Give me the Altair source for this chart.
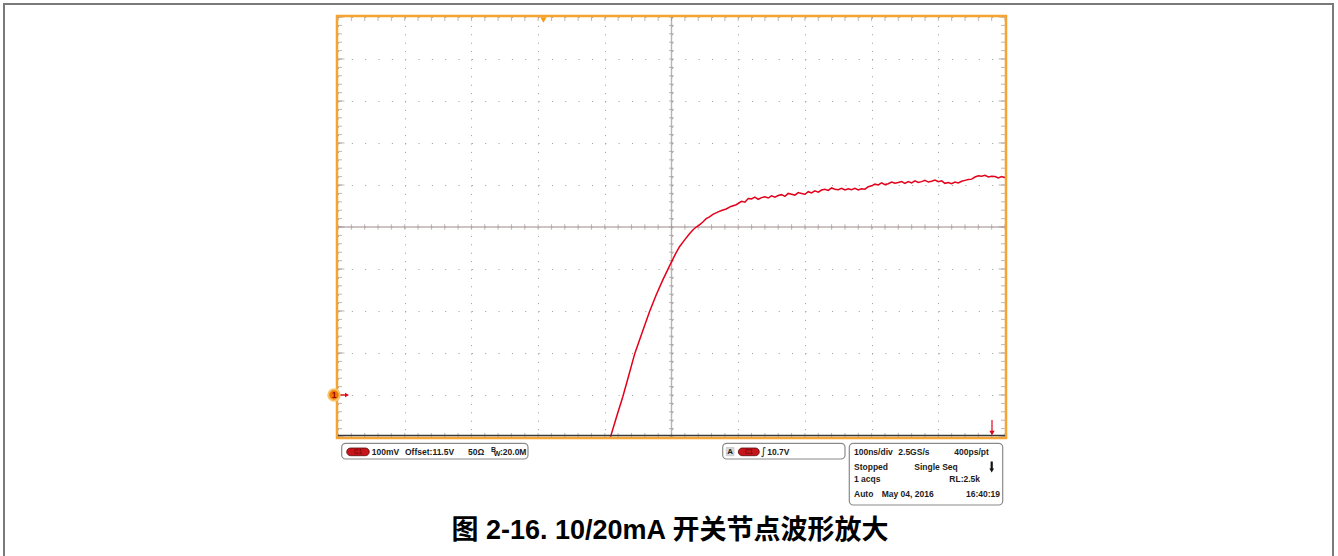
import altair as alt
import numpy as np
import pandas as pd

# Channel 1 switch-node trace: time in ns from the left graticule edge, voltage in V
time_ns = [
    408.5, 418, 427, 436, 445, 456, 467, 477, 487, 500, 506, 512, 520, 527, 532,
    537, 542, 547, 552, 557, 562, 570, 576, 582, 589, 597,
    605, 610, 615, 620, 625, 630, 635, 640, 645, 650, 655, 660, 665, 670, 675,
    680, 685, 690, 695, 700, 705, 710, 715, 720, 725, 730, 735, 740, 745, 750,
    755, 760, 765, 770, 775, 780, 785, 790, 795, 800, 805, 810, 815, 820, 825,
    830, 835, 840, 845, 850, 855, 860, 865, 870, 875, 880, 885, 890, 895, 900,
    905, 910, 915, 920, 925, 930, 935, 940, 945, 950, 955, 960, 965, 970, 975,
    980, 985, 990, 995, 1000,
]
volts = [
    11.000, 11.050, 11.096, 11.147, 11.199, 11.249, 11.298, 11.338, 11.374, 11.417,
    11.436, 11.453, 11.470, 11.484, 11.493, 11.500, 11.505, 11.512, 11.520, 11.524,
    11.530, 11.536, 11.540, 11.543, 11.549, 11.553,
    11.561, 11.559, 11.568, 11.567, 11.571, 11.566, 11.570, 11.572, 11.569, 11.574,
    11.571, 11.575, 11.577, 11.573, 11.580, 11.578, 11.576, 11.582, 11.580, 11.578,
    11.584, 11.581, 11.586, 11.583, 11.588, 11.590, 11.587, 11.593, 11.590, 11.589,
    11.592, 11.588, 11.591, 11.589, 11.592, 11.588, 11.591, 11.590, 11.596, 11.598,
    11.602, 11.600, 11.605, 11.601, 11.603, 11.607, 11.604, 11.606, 11.608, 11.604,
    11.608, 11.605, 11.610, 11.606, 11.608, 11.611, 11.607, 11.609, 11.612, 11.608,
    11.610, 11.604, 11.606, 11.603, 11.607, 11.605, 11.609, 11.611, 11.613, 11.614,
    11.619, 11.622, 11.621, 11.623, 11.619, 11.621, 11.620, 11.617, 11.620, 11.617,
]

SCREEN_T = [0, 1000]        # 10 div x 100 ns/div
SCREEN_V = [11.0, 12.0]     # 10 div x 100 mV/div around the 11.5 V offset
trigger_time = [308]
ground_level = [11.1]

W, H = 667, 420
ORANGE = "#f5a431"
TICK = "#a89494"
RED = "#e3001b"
FONT = "Liberation Sans"
CAPTION_FONT = "Liberation Sans, Noto Sans CJK SC"

xs = alt.Scale(domain=SCREEN_T, nice=False, zero=False)
ys = alt.Scale(domain=SCREEN_V, nice=False, zero=False)
xax = alt.Axis(values=list(range(0, 1001, 100)), grid=True, gridDash=[1, 7.4],
               gridColor="#9c9c9c", gridWidth=1, labels=False, ticks=False,
               domain=False, title="")
yax = alt.Axis(values=[round(11.0 + 0.1 * i, 1) for i in range(11)], grid=True,
               gridDash=[1, 12.34], gridColor="#9c9c9c", gridWidth=1, labels=False,
               ticks=False, domain=False, title="")

X = lambda f="t": alt.X(f"{f}:Q", scale=xs, axis=xax)
Y = lambda f="v": alt.Y(f"{f}:Q", scale=ys, axis=yax)

trace = pd.DataFrame({"t": time_ns, "v": volts})

# graticule subdivisions: 5 per division
sub_t = pd.DataFrame({"t": np.arange(0, 1001, 20)})
sub_v = pd.DataFrame({"v": np.round(np.arange(11.0, 12.0001, 0.02), 2)})
major_v = pd.DataFrame({"v": np.round(np.arange(11.0, 12.0001, 0.1), 1)})
one = pd.DataFrame({"k": [0]})


def box(x1, x2, y1, y2, **kw):
    return alt.Chart(one).mark_rect(**kw).encode(
        x=alt.value(x1), x2=alt.value(x2), y=alt.value(y1), y2=alt.value(y2))


def rule(x1, x2, y1, y2, color, width):
    return alt.Chart(one).mark_rule(color=color, strokeWidth=width).encode(
        x=alt.value(x1), x2=alt.value(x2), y=alt.value(y1), y2=alt.value(y2))


def txt(s, x, y, size=8.5, align="left", color="#1c1c1c", weight="bold", font=FONT):
    return alt.Chart(one).mark_text(
        text=s, fontSize=size, align=align, baseline="middle", color=color,
        fontWeight=weight, font=font).encode(x=alt.value(x), y=alt.value(y))


def pill(x1, x2, y1, y2):
    return [
        box(x1, x2, y1, y2, fill="#c8141b", stroke="#5a0a0a", strokeWidth=0.8,
            cornerRadius=4),
        txt("C1", (x1 + x2) / 2, (y1 + y2) / 2 + 0.3, size=6.5, align="center",
            color="#7e0b0b"),
    ]


layers = []

# graticule: centre cross and edge ticks
layers.append(rule(333.5, 333.5, 0, H, "#bdb1b1", 1.4))
layers.append(rule(0, W, 210, 210, "#bdb1b1", 1.4))
layers.append(alt.Chart(sub_t).mark_tick(orient="vertical", size=8, thickness=1,
                                         color=TICK, clip=True)
              .encode(x=X(), y=alt.value(0)))
layers.append(alt.Chart(sub_t).mark_tick(orient="vertical", size=8, thickness=1,
                                         color=TICK, clip=True)
              .encode(x=X(), y=alt.value(H)))
layers.append(alt.Chart(sub_t).mark_tick(orient="vertical", size=5.5, thickness=1,
                                         color=TICK)
              .encode(x=X(), y=alt.value(210)))
for xpos in (0, W):
    layers.append(alt.Chart(sub_v).mark_tick(orient="horizontal", size=8,
                                             thickness=1, color=TICK, clip=True)
                  .encode(y=Y(), x=alt.value(xpos)))
    layers.append(alt.Chart(major_v).mark_tick(orient="horizontal", size=13,
                                               thickness=1, color=TICK, clip=True)
                  .encode(y=Y(), x=alt.value(xpos)))
layers.append(alt.Chart(sub_v).mark_tick(orient="horizontal", size=5,
                                         thickness=1, color=TICK)
              .encode(y=Y(), x=alt.value(333.5)))

# waveform
layers.append(alt.Chart(trace).mark_line(color=RED, strokeWidth=1.5, clip=True)
              .encode(x=X(), y=Y(), order="t:Q"))

# screen border
layers.append(box(-1, W + 1, -1, H + 1, fill="transparent", stroke=ORANGE,
                  strokeWidth=2.5))
layers.append(rule(0, W, H - 1.5, H - 1.5, "#3a3a3a", 1.5))

# trigger position marker
layers.append(alt.Chart(pd.DataFrame({"t": trigger_time}))
              .mark_point(shape="triangle-down", filled=True, size=40,
                          color="#f39c12", opacity=1)
              .encode(x=X(), y=alt.value(3)))

# trigger level arrow
layers.append(rule(654, 654, 403, 415, RED, 1.2))
layers.append(alt.Chart(one).mark_point(shape="triangle-down", filled=True, size=28,
                                        color=RED, opacity=1)
              .encode(x=alt.value(654), y=alt.value(416)))

# channel 1 ground marker
gnd = alt.Chart(pd.DataFrame({"v": ground_level}))
layers.append(gnd.mark_rule(color=RED, strokeWidth=1.3)
              .encode(x=alt.value(1), x2=alt.value(8), y=Y()))
layers.append(gnd.mark_point(shape="triangle-right", filled=True, size=22,
                             color=RED, opacity=1)
              .encode(x=alt.value(9), y=Y()))
layers.append(gnd.mark_point(shape="circle", filled=True, size=130, fill="#ee7a00",
                             stroke="#f7c46c", strokeWidth=2, opacity=1)
              .encode(x=alt.value(-4), y=Y()))
layers.append(gnd.mark_text(text="1", fontSize=8.5, fontWeight="bold",
                            color="#9a0000", font=FONT, baseline="middle",
                            align="center")
              .encode(x=alt.value(-4), y=Y()))

# vertical settings readout
layers.append(box(3.7, 190, 426.3, 442, fill="white", stroke="#8a8a8a",
                  strokeWidth=1.2, cornerRadius=4))
layers += pill(8.7, 31.3, 431, 438.7)
layers.append(txt("100mV", 33.7, 434.5))
layers.append(txt("Offset:11.5V", 67, 434.5))
layers.append(txt("50Ω", 130, 434.5))
layers.append(txt("B", 153, 432.5, size=7))
layers.append(txt("W", 155.8, 436.5, size=7))
layers.append(txt(":20.0M", 162, 434.5))

# trigger readout
layers.append(box(384.7, 507, 426.3, 442, fill="white", stroke="#8a8a8a",
                  strokeWidth=1.2, cornerRadius=4))
layers.append(box(388.2, 396, 430.5, 438.7, fill="#d9d9d9", stroke="#bdbdbd",
                  strokeWidth=0.6))
layers.append(txt("A", 392.1, 434.7, size=8, align="center"))
layers += pill(400.3, 421.3, 431, 438.7)
layers.append(txt("∫", 425.7, 434.5, size=11, align="center", weight="normal",
                  font="DejaVu Sans"))
layers.append(txt("10.7V", 429.3, 434.5))

# acquisition readout
layers.append(box(511.3, 664.7, 426.3, 488, fill="white", stroke="#8a8a8a",
                  strokeWidth=1.2, cornerRadius=4))
layers.append(txt("100ns/div", 516, 434.7))
layers.append(txt("2.5GS/s", 560.3, 434.7))
layers.append(txt("400ps/pt", 616.3, 434.7))
layers.append(txt("Stopped", 516, 449.7))
layers.append(txt("Single Seq", 576.3, 449.7))
layers.append(rule(653.7, 653.7, 444.5, 452, "#111111", 2.2))
layers.append(alt.Chart(one).mark_point(shape="triangle-down", filled=True, size=22,
                                        color="#111111", opacity=1)
              .encode(x=alt.value(653.7), y=alt.value(453.5)))
layers.append(txt("1 acqs", 516, 462.3))
layers.append(txt("RL:2.5k", 611.3, 462.3))
layers.append(txt("Auto", 516, 477.3))
layers.append(txt("May 04, 2016", 543.7, 477.3))
layers.append(txt("16:40:19", 628, 477.3))

# page frame and caption
layers.append(rule(-334, -334, -14, 545, "#7a7a7a", 2))
layers.append(rule(995, 995, -14, 545, "#7a7a7a", 2))
layers.append(rule(-335, 996, -13, -13, "#7a7a7a", 2))
layers.append(txt("图 2-16. 10/20mA 开关节点波形放大", 332, 514, size=27,
                  align="center", color="#000000", font=CAPTION_FONT))

chart = alt.layer(*layers).properties(
    width=W, height=H,
    padding={"left": 338, "top": 17, "right": 333, "bottom": 119},
    autosize=alt.AutoSizeParams(type="none"),
    background="white",
).configure_view(stroke=None)

chart.save("out.html", embed_options={"renderer": "svg", "actions": False})
